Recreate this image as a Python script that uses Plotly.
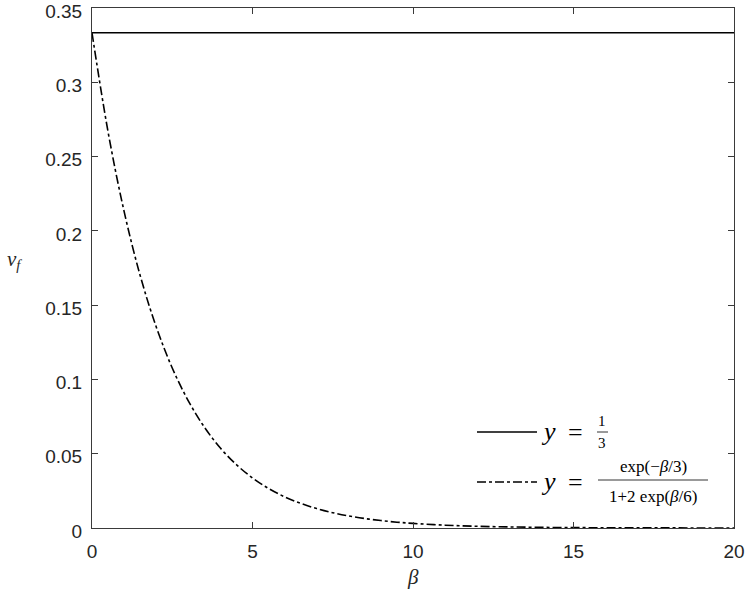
import plotly.graph_objects as go

# ---------------- data ----------------
beta = [0, 0.5, 1, 1.5, 2, 2.5, 3, 3.5, 4, 4.5, 5, 5.5, 6, 6.5, 7, 7.5, 8, 8.5, 9, 9.5,
        10, 11, 12, 13, 14, 15, 16, 17, 18, 19, 20]
nu_curve = [0.3333, 0.2667, 0.2131, 0.1700, 0.1354, 0.1077, 0.0856, 0.0679, 0.0538, 0.0426,
            0.0337, 0.0266, 0.0210, 0.0166, 0.01307, 0.01029, 0.00809, 0.00636, 0.00500, 0.00392,
            0.00308, 0.00189, 0.00116, 0.000711, 0.000435, 0.000266, 0.000162, 0.0000988,
            0.0000602, 0.0000367, 0.0000223]
beta_const = [0, 20]
nu_const = [1 / 3, 1 / 3]

x_ticks = [0, 5, 10, 15, 20]
x_ticklabels = ["0", "5", "10", "15", "20"]
y_ticks = [0, 0.05, 0.1, 0.15, 0.2, 0.25, 0.3, 0.35]
y_ticklabels = ["0", "0.05", "0.1", "0.15", "0.2", "0.25", "0.3", "0.35"]

# ---------------- layout geometry ----------------
W, H = 747, 591
ML, MR, MT, MB = 92, 13, 8, 63
PW, PH = W - ML - MR, H - MT - MB


def px(x):
    return (x - ML) / PW


def py(y):
    return (H - MB - y) / PH


TXT = "#262626"
SERIF = "Liberation Serif, DejaVu Serif, serif"
SANS = "Liberation Sans, Arial, Helvetica, sans-serif"

fig = go.Figure()
fig.add_trace(go.Scatter(x=beta_const, y=nu_const, mode="lines", name="y = 1/3",
                         line=dict(color="black", width=1.6), showlegend=False))
fig.add_trace(go.Scatter(x=beta, y=nu_curve, mode="lines", name="y = exp(-β/3)/(1+2exp(β/6))",
                         line=dict(color="black", width=1.6, dash="dashdot", shape="spline"),
                         showlegend=False))

axis_common = dict(showline=True, linecolor="#3a3a3a", linewidth=1, mirror="ticks",
                   ticks="inside", ticklen=6, tickcolor="#3a3a3a", tickwidth=1,
                   showgrid=False, zeroline=False, automargin=False,
                   ticklabeloverflow="allow",
                   tickfont=dict(family=SANS, size=19, color=TXT))

fig.update_layout(
    template="none",
    width=W, height=H,
    margin=dict(l=ML, r=MR, t=MT, b=MB, autoexpand=False),
    paper_bgcolor="white", plot_bgcolor="white",
    xaxis=dict(range=[0, 20], tickvals=x_ticks, ticktext=x_ticklabels,
               ticklabelstandoff=6, **axis_common),
    yaxis=dict(range=[0, 0.35], tickvals=y_ticks, ticktext=y_ticklabels,
               ticklabelstandoff=5, ticklabelshift=3, **axis_common),
)

ann = []
shapes = []


def text(x, y, t, size, family=SERIF, color=TXT):
    ann.append(dict(x=px(x), y=py(y), xref="paper", yref="paper", text=t, showarrow=False,
                    xanchor="center", yanchor="middle",
                    font=dict(family=family, size=size, color=color)))


def hline(x0, x1, y, dash="solid", width=1.0, color="black"):
    shapes.append(dict(type="line", xref="paper", yref="paper", x0=px(x0), x1=px(x1),
                       y0=py(y), y1=py(y), line=dict(color=color, width=width, dash=dash)))


# axis titles
text(14, 260, "<i>ν</i><sub><i>f</i></sub>", 21)
text(413, 577, "<i>β</i>", 21)

# custom legend
K = "black"
hline(477, 537, 432, width=1.6)
text(548, 431, "<i>y</i>", 26, color=K)
text(575, 432, "=", 26, color=K)
text(602, 421, "1", 15, color=K)
hline(597, 608, 432, width=0.8)
text(602, 443, "3", 15, color=K)

hline(477, 537, 482, dash="dashdot", width=1.6)
text(548, 481, "<i>y</i>", 26, color=K)
text(575, 482, "=", 26, color=K)
text(653, 466, "exp(−<i>β</i>/3)", 17, color=K)
hline(598, 708, 480, width=0.8)
text(653, 496, "1+2 exp(<i>β</i>/6)", 17, color=K)

fig.update_layout(annotations=ann, shapes=shapes)
fig.write_html("out.html", config={"displayModeBar": False},
               post_script="document.body.style.margin='0';document.body.style.padding='0';")
